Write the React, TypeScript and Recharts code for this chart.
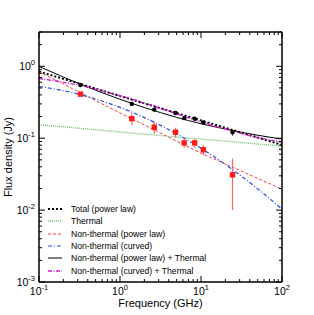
import React from 'react';
import { ComposedChart, Line, Scatter, XAxis, YAxis, ErrorBar } from 'recharts';

// model curves at these frequencies (GHz)
const freqs = [0.1, 0.2, 0.5, 1, 2, 5, 10, 20, 50, 100];
const totalPow = [0.845, 0.668, 0.49, 0.386, 0.305, 0.224, 0.1765, 0.1395, 0.1023, 0.0807];
const thermal = [0.154, 0.144, 0.131, 0.122, 0.114, 0.104, 0.097, 0.091, 0.083, 0.078];
const ntPow = [0.84, 0.565, 0.334, 0.225, 0.153, 0.091, 0.062, 0.0438, 0.0276, 0.0195];
const ntCurv = [0.524, 0.458, 0.351, 0.268, 0.1935, 0.115, 0.0724, 0.043, 0.0198, 0.0103];
const powTh = [0.994, 0.709, 0.465, 0.348, 0.267, 0.195, 0.159, 0.134, 0.11, 0.097];
const curvTh = [0.678, 0.6, 0.482, 0.39, 0.307, 0.219, 0.169, 0.134, 0.102, 0.0885];

// measured fluxes (Jy)
const ptFreq = [0.325, 1.4, 2.65, 4.85, 6.2, 8.35, 10.7, 24.5];
const totalFlux = [0.55, 0.3, 0.25, 0.224, 0.19, 0.187, 0.166, 0.121];
const totalErr = [0.03, 0.015, 0.013, 0.011, 0.01, 0.01, 0.009, 0.013];
const ntFlux = [0.41, 0.187, 0.142, 0.121, 0.086, 0.086, 0.069, 0.031];
const ntErr = [0.02, 0.035, 0.027, 0.019, 0.013, 0.013, 0.011, 0.021];

const xTicks = [0.1, 0.2, 0.3, 0.4, 0.5, 0.6, 0.7, 0.8, 0.9, 1, 2, 3, 4, 5, 6, 7, 8, 9, 10,
  20, 30, 40, 50, 60, 70, 80, 90, 100];
const yTicks = [0.001, 0.002, 0.003, 0.004, 0.005, 0.006, 0.007, 0.008, 0.009, 0.01,
  0.02, 0.03, 0.04, 0.05, 0.06, 0.07, 0.08, 0.09, 0.1, 0.2, 0.3, 0.4, 0.5, 0.6, 0.7, 0.8, 0.9, 1, 2, 3];

const curveData = freqs.map((f, i) => ({
  f, totalPow: totalPow[i], thermal: thermal[i], ntPow: ntPow[i],
  ntCurv: ntCurv[i], powTh: powTh[i], curvTh: curvTh[i],
}));
const ptData = ptFreq.map((f, i) => ({
  f, total: totalFlux[i], totalErr: totalErr[i], nt: ntFlux[i], ntErr: ntErr[i],
}));

const FONT = '"Liberation Sans", Arial, Helvetica, sans-serif';

const series = [
  { key: 'totalPow', name: 'Total (power law)', color: '#000', width: 2, dash: '2 2' },
  { key: 'thermal', name: 'Thermal', color: '#6cc36c', width: 1.4, dash: '1 1' },
  { key: 'ntPow', name: 'Non-thermal (power law)', color: '#ff3b3b', width: 1, dash: '3 2' },
  { key: 'ntCurv', name: 'Non-thermal (curved)', color: '#2a4cf0', width: 1.2, dash: '4 2 1 2' },
  { key: 'powTh', name: 'Non-thermal (power law) + Thermal', color: '#000', width: 1, dash: undefined },
  { key: 'curvTh', name: 'Non-thermal (curved) + Thermal', color: '#d21ad2', width: 1.4, dash: '4 1.5 1 1.5' },
];

function exponent(v: number) {
  const e = Math.log10(v);
  return Math.abs(e - Math.round(e)) < 1e-6 ? Math.round(e) : null;
}

// eslint-disable-next-line @typescript-eslint/no-explicit-any
function BottomTick({ x, y, payload }: any) {
  const e = exponent(payload.value);
  return (
    <g>
      <line x1={x} x2={x} y1={y} y2={y - (e !== null ? 6 : 3)} stroke="#000" />
      {e !== null && (
        <text x={x} y={y + 13} textAnchor="middle" fontSize={10.5} fontFamily={FONT} fill="#000">
          10<tspan dy={-5} fontSize={7.5}>{e}</tspan>
        </text>
      )}
    </g>
  );
}

// eslint-disable-next-line @typescript-eslint/no-explicit-any
function TopTick({ x, y, payload }: any) {
  const e = exponent(payload.value);
  return <line x1={x} x2={x} y1={y} y2={y + (e !== null ? 6 : 3)} stroke="#000" />;
}

// eslint-disable-next-line @typescript-eslint/no-explicit-any
function LeftTick({ x, y, payload }: any) {
  const e = exponent(payload.value);
  return (
    <g>
      <line x1={x} x2={x + (e !== null ? 6 : 3)} y1={y} y2={y} stroke="#000" />
      {e !== null && (
        <text x={x - 4} y={y + 4} textAnchor="end" fontSize={10.5} fontFamily={FONT} fill="#000">
          10<tspan dy={-5} fontSize={7.5}>{e}</tspan>
        </text>
      )}
    </g>
  );
}

// eslint-disable-next-line @typescript-eslint/no-explicit-any
function RightTick({ x, y, payload }: any) {
  const e = exponent(payload.value);
  return <line x1={x} x2={x - (e !== null ? 6 : 3)} y1={y} y2={y} stroke="#000" />;
}

// eslint-disable-next-line @typescript-eslint/no-explicit-any
const Dot = (p: any) => <circle cx={p.cx} cy={p.cy} r={2.2} fill="#000" />;
// eslint-disable-next-line @typescript-eslint/no-explicit-any
const Sq = (p: any) => <rect x={p.cx - 2.7} y={p.cy - 2.7} width={5.4} height={5.4} fill="#ff1a1a" />;

export default function App() {
  const axisLine = { stroke: '#000', strokeWidth: 1.5 };
  return (
    <div style={{ position: 'absolute', left: 0, top: 0, width: 314, height: 315, background: '#fff' }}>
      <ComposedChart width={314} height={315} data={curveData}
        margin={{ top: 31, right: 31, bottom: 0, left: 0 }}>
        <XAxis dataKey="f" type="number" scale="log" domain={[0.1, 100]} allowDataOverflow
          ticks={xTicks} interval={0} tickSize={0} tickMargin={0} height={33}
          axisLine={axisLine} tickLine={false} tick={<BottomTick />} />
        <XAxis xAxisId="top" orientation="top" dataKey="f" type="number" scale="log"
          domain={[0.1, 100]} allowDataOverflow ticks={xTicks} interval={0} tickSize={0}
          tickMargin={0} height={1} axisLine={axisLine} tickLine={false} tick={<TopTick />} />
        <YAxis type="number" scale="log" domain={[0.001, 3]} allowDataOverflow
          ticks={yTicks} interval={0} tickSize={0} tickMargin={0} width={39}
          axisLine={axisLine} tickLine={false} tick={<LeftTick />} />
        <YAxis yAxisId="right" orientation="right" type="number" scale="log"
          domain={[0.001, 3]} allowDataOverflow ticks={yTicks} interval={0} tickSize={0}
          tickMargin={0} width={1} axisLine={axisLine} tickLine={false} tick={<RightTick />} />

        {/* invisible series so the mirrored top/right axes get drawn */}
        <Line xAxisId="top" yAxisId="right" dataKey="thermal" stroke="none" dot={false}
          activeDot={false} isAnimationActive={false} />

        {series.map((s) => (
          <Line key={s.key} dataKey={s.key} type="monotone" stroke={s.color}
            strokeWidth={s.width} strokeDasharray={s.dash} dot={false}
            activeDot={false} isAnimationActive={false} />
        ))}

        <Scatter data={ptData} dataKey="total" shape={Dot} isAnimationActive={false}>
          <ErrorBar dataKey="totalErr" direction="y" width={0} stroke="#444" strokeWidth={1} />
        </Scatter>
        <Scatter data={ptData} dataKey="nt" shape={Sq} isAnimationActive={false}>
          <ErrorBar dataKey="ntErr" direction="y" width={0} stroke="#f26b6b" strokeWidth={1.2} />
        </Scatter>
      </ComposedChart>

      {/* legend */}
      <div style={{ position: 'absolute', left: 46, top: 203, fontFamily: FONT, fontSize: 8.6, color: '#000' }}>
        {series.map((s) => (
          <div key={s.key} style={{ display: 'flex', alignItems: 'center', height: 12.3 }}>
            <svg width={18} height={6} style={{ marginRight: 7 }}>
              <line x1={2} x2={16} y1={3} y2={3} stroke={s.color} strokeWidth={s.width}
                strokeDasharray={s.dash} />
            </svg>
            <span style={{ whiteSpace: 'nowrap' }}>{s.name}</span>
          </div>
        ))}
      </div>

      <div style={{ position: 'absolute', left: 39, width: 243, top: 296, textAlign: 'center',
        fontFamily: FONT, fontSize: 11, lineHeight: '14px' }}>Frequency (GHz)</div>
      <div style={{ position: 'absolute', left: 8 - 100, top: 157 - 7, width: 200, textAlign: 'center',
        fontFamily: FONT, fontSize: 11, lineHeight: '14px', transform: 'rotate(-90deg)' }}>
        Flux density (Jy)
      </div>
    </div>
  );
}
